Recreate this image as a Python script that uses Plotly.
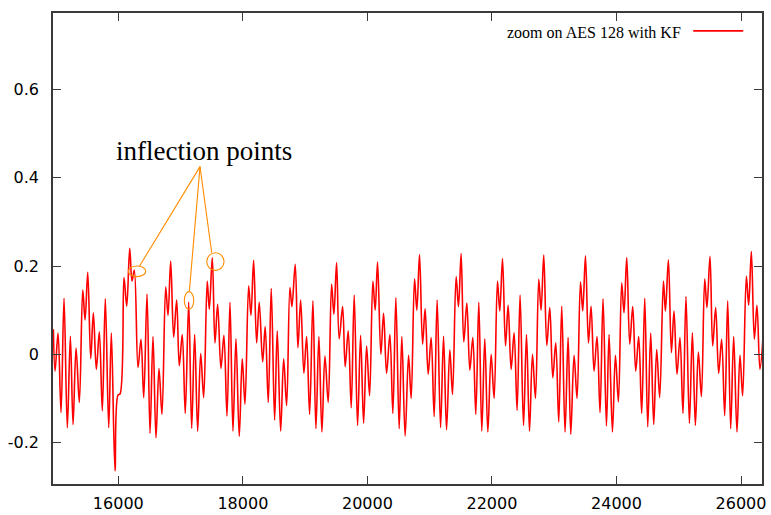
import plotly.graph_objects as go

# ---- data: local extrema of the signal ----
x_vals = [
    14957, 14984, 15032, 15080, 15128, 15181, 15230, 15273, 15321, 15374,
    15429, 15466, 15509, 15557, 15599, 15647, 15695, 15743, 15791, 15846,
    15888, 15947, 15995, 16027, 16091, 16135, 16183, 16220, 16257, 16316,
    16364, 16408, 16461, 16509, 16557, 16605, 16653, 16701, 16761, 16798,
    16841, 16889, 16937, 16979, 17027, 17075, 17130, 17178, 17226, 17274,
    17323, 17371, 17428, 17461, 17509, 17552, 17595, 17648, 17696, 17745,
    17793, 17841, 17889, 17942, 17990, 18034, 18093, 18130, 18173, 18221,
    18263, 18318, 18359, 18408, 18456, 18510, 18552, 18607, 18655, 18703,
    18756, 18788, 18841, 18884, 18928, 18980, 19024, 19072, 19125, 19173,
    19221, 19269, 19318, 19371, 19425, 19462, 19505, 19547, 19602, 19643,
    19692, 19740, 19788, 19842, 19891, 19939, 19987, 20035, 20088, 20125,
    20163, 20216, 20260, 20308, 20361, 20409, 20457, 20510, 20553, 20606,
    20661, 20703, 20757, 20794, 20837, 20886, 20927, 20976, 21024, 21072,
    21120, 21175, 21223, 21271, 21324, 21367, 21425, 21463, 21505, 21548,
    21597, 21645, 21693, 21741, 21789, 21837, 21885, 21934, 21987, 22035,
    22089, 22126, 22170, 22218, 22260, 22308, 22356, 22404, 22452, 22507,
    22555, 22603, 22651, 22699, 22752, 22789, 22832, 22881, 22929, 22977,
    23025, 23073, 23121, 23174, 23223, 23266, 23319, 23367, 23422, 23458,
    23502, 23550, 23592, 23640, 23688, 23736, 23784, 23839, 23881, 23935,
    23983, 24031, 24084, 24121, 24165, 24213, 24261, 24309, 24357, 24405,
    24454, 24502, 24550, 24598, 24646, 24694, 24754, 24786, 24834, 24882,
    24924, 24972, 25020, 25068, 25116, 25171, 25219, 25267, 25315, 25364,
    25417, 25453, 25502, 25545, 25593, 25641, 25689, 25738, 25786, 25834,
    25882, 25935, 25983, 26026, 26086, 26123, 26166, 26214, 26256, 26304,
    26356,
]

y_vals = [
    0.057, -0.038, 0.048, -0.132, 0.127, -0.166, 0.041, -0.159, 0.014, -0.109,
    0.146, 0.078, 0.186, -0.010, 0.094, -0.034, 0.051, -0.128, 0.126, -0.166,
    0.048, -0.264, -0.092, -0.090, 0.174, 0.109, 0.240, 0.166, 0.191, -0.030,
    0.034, -0.098, 0.136, -0.179, 0.040, -0.189, -0.032, -0.136, 0.153, 0.088,
    0.211, 0.039, 0.123, -0.026, 0.045, -0.134, 0.118, -0.168, 0.045, -0.174,
    0.002, -0.098, 0.166, 0.102, 0.219, 0.026, 0.113, -0.032, 0.043, -0.140,
    0.118, -0.174, 0.035, -0.186, -0.010, -0.113, 0.155, 0.088, 0.213, 0.026,
    0.118, -0.017, 0.063, -0.109, 0.149, -0.149, 0.053, -0.174, -0.010, -0.116,
    0.151, 0.108, 0.204, 0.015, 0.123, -0.043, 0.040, -0.136, 0.121, -0.168,
    0.040, -0.176, -0.004, -0.109, 0.159, 0.091, 0.208, 0.035, 0.108, -0.028,
    0.053, -0.121, 0.134, -0.161, 0.043, -0.156, 0.019, -0.094, 0.166, 0.100,
    0.209, 0.000, 0.093, -0.043, 0.045, -0.134, 0.128, -0.168, 0.040, -0.185,
    -0.002, -0.100, 0.171, 0.100, 0.226, 0.023, 0.103, -0.045, 0.038, -0.141,
    0.123, -0.166, 0.041, -0.171, 0.010, -0.091, 0.176, 0.108, 0.228, 0.028,
    0.116, -0.036, 0.038, -0.136, 0.118, -0.174, 0.035, -0.176, 0.000, -0.100,
    0.166, 0.098, 0.217, 0.019, 0.111, -0.034, 0.049, -0.127, 0.134, -0.161,
    0.045, -0.174, 0.000, -0.100, 0.170, 0.100, 0.225, 0.020, 0.106, -0.053,
    0.026, -0.153, 0.109, -0.176, 0.038, -0.181, -0.002, -0.100, 0.164, 0.098,
    0.223, 0.026, 0.109, -0.038, 0.040, -0.132, 0.126, -0.162, 0.045, -0.176,
    -0.002, -0.108, 0.162, 0.094, 0.219, 0.023, 0.108, -0.038, 0.040, -0.134,
    0.127, -0.164, 0.048, -0.159, 0.011, -0.098, 0.166, 0.098, 0.214, 0.004,
    0.098, -0.045, 0.038, -0.134, 0.131, -0.156, 0.049, -0.161, 0.005, -0.096,
    0.171, 0.106, 0.222, 0.019, 0.106, -0.043, 0.034, -0.139, 0.121, -0.168,
    0.040, -0.176, -0.002, -0.094, 0.177, 0.111, 0.233, 0.034, 0.111, -0.034,
    0.045,
]

x_ticks = [16000, 18000, 20000, 22000, 24000, 26000]
x_tick_labels = ["16000", "18000", "20000", "22000", "24000", "26000"]
y_ticks = [-0.2, 0.0, 0.2, 0.4, 0.6]
y_tick_labels = ["-0.2", "0", "0.2", "0.4", "0.6"]

series_name = "zoom on AES 128 with KF"
note_text = "inflection points"

# annotation geometry (data coordinates)
apex = (17312, 0.425)
pointer_ends = [(16337, 0.199), (17140, 0.142), (17500, 0.230)]
ellipses = [
    (16161, 16440, 0.176, 0.200),
    (17060, 17211, 0.102, 0.142),
    (17420, 17698, 0.190, 0.230),
]

RED = "#ff0000"
ORANGE = "#ff8c00"
FRAME = "#3a3a3a"

fig = go.Figure()
fig.add_trace(go.Scatter(
    x=x_vals, y=y_vals, mode="lines", name=series_name,
    line=dict(color=RED, width=1.6, shape="spline", smoothing=1.0),
    showlegend=False, hoverinfo="skip",
))

shapes = []
for (xe, ye) in pointer_ends:
    shapes.append(dict(type="line", xref="x", yref="y",
                       x0=apex[0], y0=apex[1], x1=xe, y1=ye,
                       line=dict(color=ORANGE, width=1.1)))
for (x0, x1, y0, y1) in ellipses:
    shapes.append(dict(type="circle", xref="x", yref="y",
                       x0=x0, x1=x1, y0=y0, y1=y1,
                       line=dict(color=ORANGE, width=1.1)))
# legend sample line
shapes.append(dict(type="line", xref="paper", yref="paper",
                   x0=0.903, x1=0.9735, y0=0.962, y1=0.962,
                   line=dict(color=RED, width=1.6)))

annotations = [
    dict(text=note_text, x=17368, y=0.4615, xref="x", yref="y",
         showarrow=False, xanchor="center", yanchor="middle",
         font=dict(family="Liberation Serif", size=27, color="#000000")),
    dict(text=series_name, x=0.889, y=0.9576, xref="paper", yref="paper",
         showarrow=False, xanchor="right", yanchor="middle",
         font=dict(family="Liberation Serif", size=16, color="#000000")),
]

axis_common = dict(
    showline=True, linecolor=FRAME, linewidth=1.5, mirror="ticks",
    ticks="inside", ticklen=8, tickwidth=1.2, tickcolor=FRAME,
    showgrid=False, zeroline=False, automargin=False,
    tickfont=dict(family="DejaVu Sans", size=16, color="#000000"),
)

fig.update_layout(
    width=771, height=515,
    margin=dict(l=53, r=9, t=13, b=31),
    paper_bgcolor="white", plot_bgcolor="white",
    xaxis=dict(range=[14951, 26337], tickvals=x_ticks, ticktext=x_tick_labels,
               ticklabelstandoff=4, **axis_common),
    yaxis=dict(range=[-0.2937, 0.773], tickvals=y_ticks, ticktext=y_tick_labels,
               ticklabelstandoff=9, **axis_common),
    shapes=shapes,
    annotations=annotations,
    showlegend=False,
)

fig.write_html("out.html")
